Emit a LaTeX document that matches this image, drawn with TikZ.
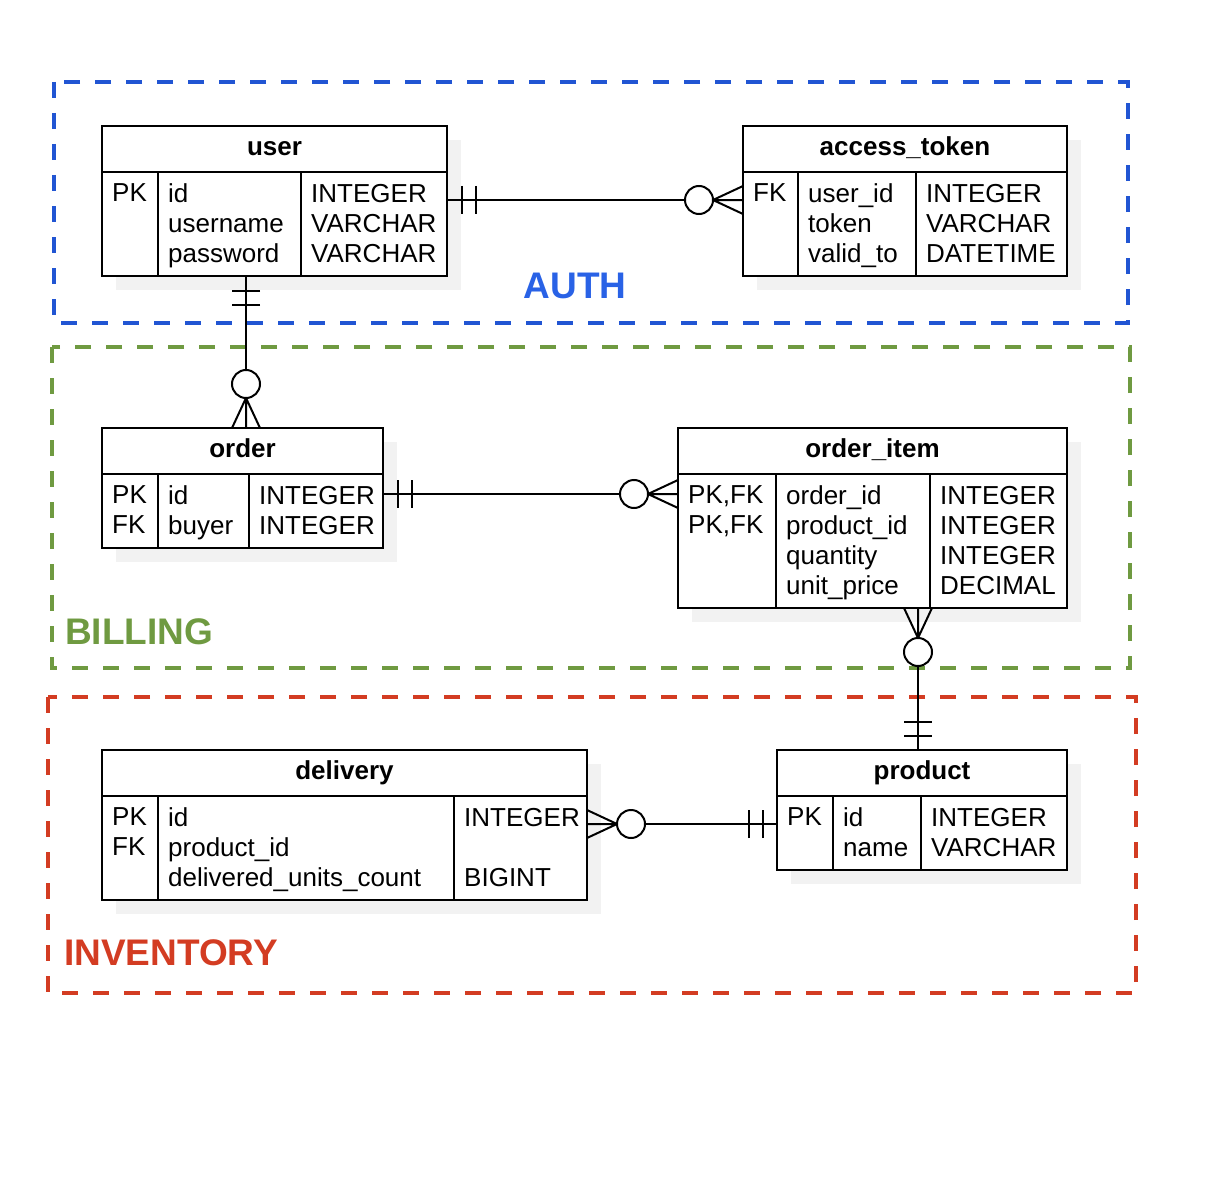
\documentclass[tikz,border=0pt]{standalone}
\usepackage{fontspec}
\setmainfont{Liberation Sans}
\usetikzlibrary{positioning,shadows}
\definecolor{authblue}{HTML}{2155D3}
\definecolor{authtext}{HTML}{2962E6}
\definecolor{billgreen}{HTML}{6F9A41}
\definecolor{invred}{HTML}{D33C22}
\begin{document}
\begin{tikzpicture}[x=1pt,y=-1pt,
		ent/.style = {draw,line width=2pt,fill=white,outer sep=0pt,inner sep=0pt,drop shadow={shadow xshift=14pt,shadow yshift=-14pt,fill=black!5,opacity=1}},
		head/.style = {ent,anchor=north west,minimum height=46pt,text height=19pt,text depth=6pt,font=\bfseries\fontsize{26}{30}\selectfont},
		field/.style = {anchor=north west,align=left,inner sep=0pt,font=\fontsize{26}{30}\selectfont},
		rel/.style = {line width=2pt},
		group/.style = {line width=4pt,dash pattern=on 16pt off 15pt},
		glabel/.style = {font=\bfseries\fontsize{37}{40}\selectfont,inner sep=0pt},
		one/.pic = {\draw[rel] (14.5,-14) -- (14.5,14) (28.5,-14) -- (28.5,14);},
		many/.pic = {\draw[rel] (0,-14) -- (30,0) -- (0,14) (0,0) -- (30,0); \draw[rel,fill=white] (44,0) circle (14);}
		]
		\useasboundingbox (0,0) rectangle (1224,1196);
		%GRUPPI
		\draw[group,authblue] (54,82) rectangle (1128,323);
		\draw[group,billgreen] (52,347) rectangle (1130,668);
		\draw[group,invred] (48,697) rectangle (1136,993);
		\node[glabel,text=authtext,anchor=base] (auth) at (575,298) {AUTH};
		\node[glabel,text=billgreen,anchor=base west] (billing) at (65,644) {BILLING};
		\node[glabel,text=invred,anchor=base west] (inventory) at (64,965.5) {INVENTORY};
		%USER
		\node[head,minimum width=345pt] (user) at (102,126) {user};
		\node[ent,minimum width=345pt,minimum height=104pt,below=0pt of user] (user-body) {};
		\draw[rel] ([xshift=56pt]user-body.north west) -- ([xshift=56pt]user-body.south west);
		\draw[rel] ([xshift=199pt]user-body.north west) -- ([xshift=199pt]user-body.south west);
		\node[field,below right=11.7pt and 10pt of user-body.north west] (user-keys) {PK};
		\node[field,below right=11.7pt and 66pt of user-body.north west] (user-names) {id\\username\\password};
		\node[field,below right=11.7pt and 209pt of user-body.north west] (user-types) {INTEGER\\VARCHAR\\VARCHAR};
		%ACCESS_TOKEN
		\node[head,minimum width=324pt] (token) at (743,126) {access\_token};
		\node[ent,minimum width=324pt,minimum height=104pt,below=0pt of token] (token-body) {};
		\draw[rel] ([xshift=55pt]token-body.north west) -- ([xshift=55pt]token-body.south west);
		\draw[rel] ([xshift=173pt]token-body.north west) -- ([xshift=173pt]token-body.south west);
		\node[field,below right=11.7pt and 10pt of token-body.north west] (token-keys) {FK};
		\node[field,below right=11.7pt and 65pt of token-body.north west] (token-names) {user\_id\\token\\valid\_to};
		\node[field,below right=11.7pt and 183pt of token-body.north west] (token-types) {INTEGER\\VARCHAR\\DATETIME};
		%ORDER
		\node[head,minimum width=281pt] (order) at (102,428) {order};
		\node[ent,minimum width=281pt,minimum height=74pt,below=0pt of order] (order-body) {};
		\draw[rel] ([xshift=56pt]order-body.north west) -- ([xshift=56pt]order-body.south west);
		\draw[rel] ([xshift=147pt]order-body.north west) -- ([xshift=147pt]order-body.south west);
		\node[field,below right=11.7pt and 10pt of order-body.north west] (order-keys) {PK\\FK};
		\node[field,below right=11.7pt and 66pt of order-body.north west] (order-names) {id\\buyer};
		\node[field,below right=11.7pt and 157pt of order-body.north west] (order-types) {INTEGER\\INTEGER};
		%ORDER_ITEM
		\node[head,minimum width=389pt] (item) at (678,428) {order\_item};
		\node[ent,minimum width=389pt,minimum height=134pt,below=0pt of item] (item-body) {};
		\draw[rel] ([xshift=98pt]item-body.north west) -- ([xshift=98pt]item-body.south west);
		\draw[rel] ([xshift=252pt]item-body.north west) -- ([xshift=252pt]item-body.south west);
		\node[field,below right=11.7pt and 10pt of item-body.north west] (item-keys) {PK,FK\\PK,FK};
		\node[field,below right=11.7pt and 108pt of item-body.north west] (item-names) {order\_id\\product\_id\\quantity\\unit\_price};
		\node[field,below right=11.7pt and 262pt of item-body.north west] (item-types) {INTEGER\\INTEGER\\INTEGER\\DECIMAL};
		%DELIVERY
		\node[head,minimum width=485pt] (delivery) at (102,750) {delivery};
		\node[ent,minimum width=485pt,minimum height=104pt,below=0pt of delivery] (delivery-body) {};
		\draw[rel] ([xshift=56pt]delivery-body.north west) -- ([xshift=56pt]delivery-body.south west);
		\draw[rel] ([xshift=352pt]delivery-body.north west) -- ([xshift=352pt]delivery-body.south west);
		\node[field,below right=11.7pt and 10pt of delivery-body.north west] (delivery-keys) {PK\\FK};
		\node[field,below right=11.7pt and 66pt of delivery-body.north west] (delivery-names) {id\\product\_id\\delivered\_units\_count};
		\node[field,below right=11.7pt and 362pt of delivery-body.north west] (delivery-types) {INTEGER\\\mbox{}\\BIGINT};
		%PRODUCT
		\node[head,minimum width=290pt] (product) at (777,750) {product};
		\node[ent,minimum width=290pt,minimum height=74pt,below=0pt of product] (product-body) {};
		\draw[rel] ([xshift=56pt]product-body.north west) -- ([xshift=56pt]product-body.south west);
		\draw[rel] ([xshift=144pt]product-body.north west) -- ([xshift=144pt]product-body.south west);
		\node[field,below right=11.7pt and 10pt of product-body.north west] (product-keys) {PK};
		\node[field,below right=11.7pt and 66pt of product-body.north west] (product-names) {id\\name};
		\node[field,below right=11.7pt and 154pt of product-body.north west] (product-types) {INTEGER\\VARCHAR};
		%RELAZIONI
		\coordinate (ua) at ([yshift=-28pt]user-body.north east);
		\draw[rel] (ua) -- (ua -| token-body.west) coordinate (ta);
		\pic at (ua) {one};
		\pic[rotate=180] at (ta) {many};
		\coordinate (ub) at ([xshift=144pt]user-body.south west);
		\draw[rel] (ub) -- (ub |- order.north) coordinate (ob);
		\pic[rotate=-90] at (ub) {one};
		\pic[rotate=90] at (ob) {many};
		\coordinate (oc) at ([yshift=-20pt]order-body.north east);
		\draw[rel] (oc) -- (oc -| item-body.west) coordinate (ic);
		\pic at (oc) {one};
		\pic[rotate=180] at (ic) {many};
		\coordinate (pd) at ([xshift=141pt]product.north west);
		\draw[rel] (pd) -- (pd |- item-body.south) coordinate (id);
		\pic[rotate=90] at (pd) {one};
		\pic[rotate=-90] at (id) {many};
		\coordinate (de) at ([yshift=-28pt]delivery-body.north east);
		\draw[rel] (de) -- (de -| product-body.west) coordinate (pe);
		\pic at (de) {many};
		\pic[rotate=180] at (pe) {one};
	\end{tikzpicture}
\end{document}
